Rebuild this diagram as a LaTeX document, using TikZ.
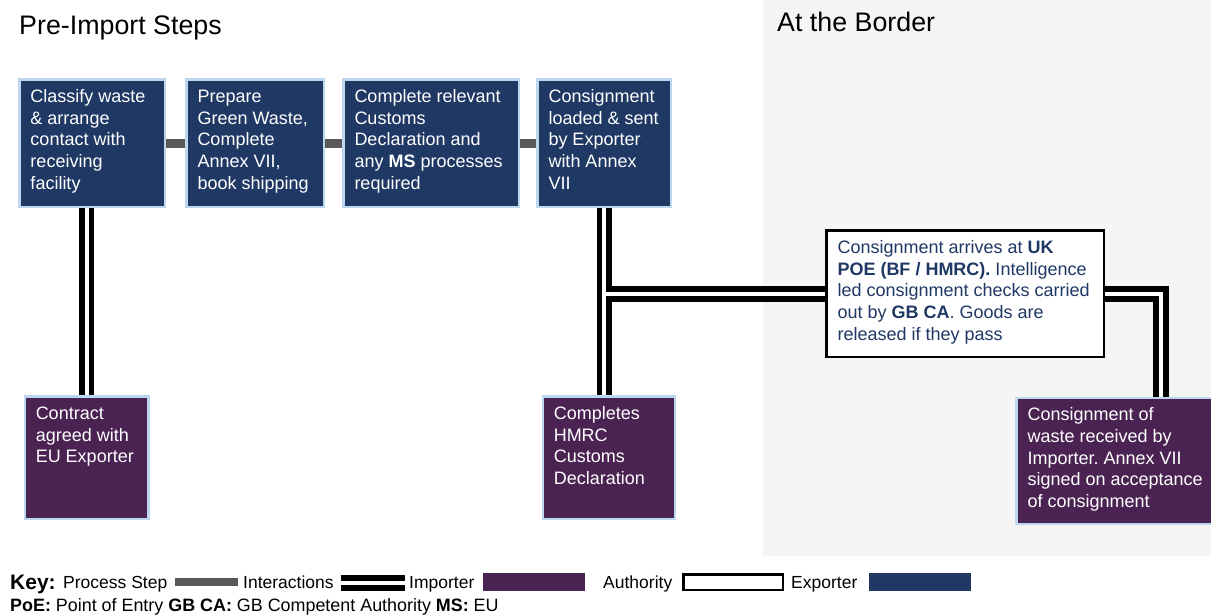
\documentclass[tikz,border=0pt]{standalone}
\usepackage{fontspec}
\setmainfont{Liberation Sans}
\usetikzlibrary{calc}
\frenchspacing
\definecolor{navy}{HTML}{1F3864}
\definecolor{plum}{HTML}{4B2352}
\definecolor{lblue}{HTML}{BDD7EE}
\definecolor{stepgrey}{HTML}{595959}
\definecolor{zonegrey}{HTML}{F5F5F5}
\pgfdeclarelayer{bgl}\pgfdeclarelayer{conl}\pgfsetlayers{bgl,conl,main}
\newcommand\bxfont{\fontsize{18}{21.7}\selectfont}
\newcommand\bxtext[3]{\hspace*{11pt}\parbox[c][#2pt][t]{#1pt}{\raggedright\strut #3}}
\tikzset{
  basebox/.style={line width=2.5pt, inner xsep=0pt, inner ysep=7.8pt, anchor=north west, font=\bxfont},
  expbox/.style={basebox, draw=lblue, fill=navy, text=white},
  impbox/.style={basebox, draw=lblue, fill=plum, text=white},
  authbox/.style={basebox, draw=black, fill=white, text=navy},
  iblack/.style={line width=15.5pt, draw=black},
  iwhite/.style={line width=4pt, draw=white},
  stepline/.style={line width=8.7pt, draw=stepgrey},
  keytext/.style={anchor=base west, inner sep=0pt, font=\fontsize{17.5}{20}\selectfont},
  title/.style={anchor=base west, inner sep=0pt, font=\fontsize{26.8}{30}\selectfont},
}
\begin{document}
\begin{tikzpicture}[x=1pt,y=-1pt]
\useasboundingbox (0,0) rectangle (1211,616);
\begin{pgfonlayer}{bgl}
\fill[zonegrey] (763,0) rectangle (1211,556);
\end{pgfonlayer}

\node[title] (t1) at (19,34) {Pre-Import Steps};
\node[title] (t2) at (777,31) {At the Border};

% exporter boxes
\node[expbox] (b1) at (18.25,78.25) {\bxtext{134.5}{111.9}{Classify waste\\ \& arrange\\ contact with\\ receiving\\ facility}};
\node[expbox] (b2) at (185.25,78.25) {\bxtext{126.5}{111.9}{Prepare\\ Green Waste,\\ Complete\\ Annex VII,\\ book shipping}};
\node[expbox] (b3) at (342.25,78.25) {\bxtext{164.5}{111.9}{Complete relevant\\ Customs\\ Declaration and\\ any \textbf{MS} processes\\ required}};
\node[expbox] (b4) at (536.25,78.25) {\bxtext{122.5}{111.9}{Consignment\\ loaded \& sent\\ by Exporter\\ with Annex\\ VII}};

% importer boxes
\node[impbox] (b5) at (23.5,395.25) {\bxtext{112.5}{106.9}{Contract\\ agreed with\\ EU Exporter}};
\node[impbox] (b6) at (541.5,395.25) {\bxtext{121.3}{106.9}{Completes\\ HMRC\\ Customs\\ Declaration}};
\node[impbox] (b7) at (1015.25,396.5) {\bxtext{187}{110.65}{Consignment of\\ waste received by\\ Importer. Annex VII\\ signed on acceptance\\ of consignment}};

% authority box
\node[authbox] (auth) at (825.25,229.25) {\bxtext{266.5}{110.9}{Consignment arrives at \textbf{UK}\\ \textbf{POE (BF / HMRC).} Intelligence\\ led consignment checks carried\\ out by \textbf{GB CA}. Goods are\\ released if they pass}};

\coordinate (rc) at ([xshift=145.75pt]b7.north west);

% key
\node[anchor=base west, inner sep=0pt, font=\fontsize{21}{24}\selectfont\bfseries] (kkey) at (10,589) {Key:};
\node[keytext] (kps) at (63,588) {Process Step};
\coordinate (kp1) at (175,582);
\coordinate (kp2) at (238,582);
\node[keytext] (kin) at (243,588) {Interactions};
\coordinate (kd1) at (341,583);
\coordinate (kd2) at (405,583);
\node[keytext] (kim) at (409,588) {Importer};
\node[fill=plum, minimum width=102pt, minimum height=18pt, inner sep=0pt] (kimr) at (534,582) {};
\node[keytext] (kau) at (603,588) {Authority};
\node[draw=black, line width=2.5pt, fill=white, minimum width=99.5pt, minimum height=15.5pt, inner sep=0pt] (kaur) at (733,582) {};
\node[keytext] (kex) at (791,588) {Exporter};
\node[fill=navy, minimum width=102pt, minimum height=18pt, inner sep=0pt] (kexr) at (920,582) {};
\node[anchor=base west, inner sep=0pt, font=\fontsize{17.9}{20}\selectfont] (kabbr) at (10,611) {\textbf{PoE:} Point of Entry \textbf{GB CA:} GB Competent Authority \textbf{MS:} EU};

\begin{pgfonlayer}{conl}
\draw[stepline] (b1.east) -- (b2.west);
\draw[stepline] (b2.east) -- (b3.west);
\draw[stepline] (b3.east) -- (b4.west);
\draw[stepline] (kp1) -- (kp2);
\draw[iblack] (b5.north) -- (b5.north |- b1.south)
  (b4.south) -- (b4.south |- b6.north)
  (auth.west) -- (auth.west -| b4.south)
  (auth.east) -| (rc)
  (kd1) -- (kd2);
\draw[iwhite] (b5.north) -- (b5.north |- b1.south)
  (b4.south) -- (b4.south |- b6.north)
  (auth.west) -- (auth.west -| b4.south)
  (auth.east) -| (rc)
  (kd1) -- (kd2);
\end{pgfonlayer}
\end{tikzpicture}
\end{document}
